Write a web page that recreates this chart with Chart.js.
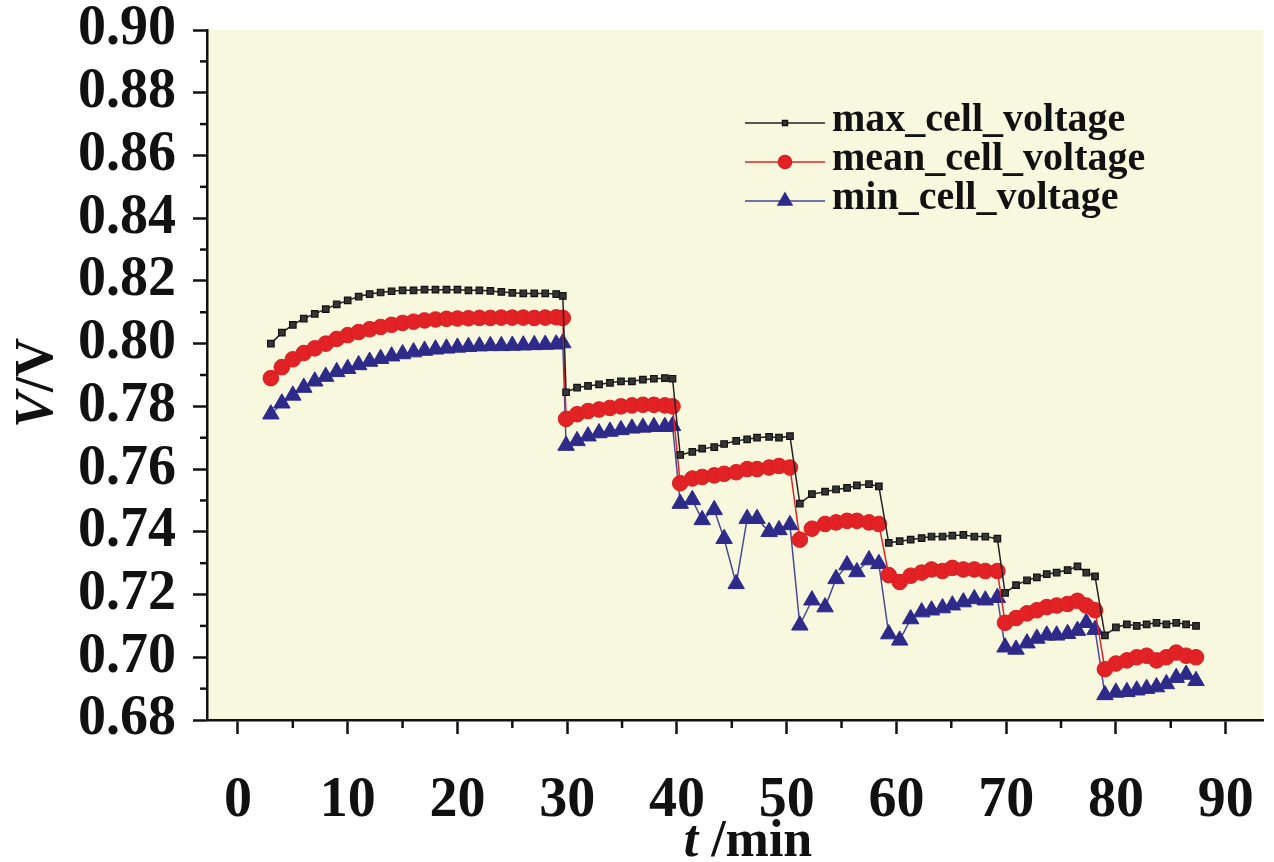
<!DOCTYPE html>
<html><head><meta charset="utf-8">
<script src="https://cdn.jsdelivr.net/npm/chart.js@4.4.1/dist/chart.umd.min.js"></script>
<style>html,body{margin:0;padding:0;background:#fff;}canvas{display:block;}</style>
</head><body>
<canvas id="c" width="1274" height="862"></canvas>
<script>
// time (min)
const times = [
  3,4,5,6,7,8,9,10,11,12,13,14,15,16,17,18,19,20,21,22,23,24,25,26,27,28,29,29.6,
  29.9,30.9,31.9,32.9,33.9,34.9,35.9,36.9,37.9,38.9,39.6,
  40.3,41.4,42.3,43.4,44.3,45.4,46.4,47.3,48.4,49.3,50.3,
  51.2,52.3,53.5,54.5,55.5,56.4,57.5,58.4,
  59.3,60.3,61.3,62.3,63.2,64.2,65.1,66.1,67.1,68.1,69.2,
  69.9,70.9,71.9,72.8,73.7,74.6,75.6,76.5,77.3,78.1,
  79.0,80.0,81.0,81.9,82.8,83.7,84.6,85.5,86.4,87.3
];
const maxVoltage = [
  0.800,0.8035,0.806,0.808,0.8095,0.811,0.8125,0.8138,0.815,0.8158,0.8163,0.8167,0.817,0.817,0.8172,0.8172,0.8172,0.8172,0.817,0.817,0.8168,0.8165,0.8162,0.816,0.816,0.816,0.8158,0.8152,
  0.7845,0.786,0.7865,0.787,0.7875,0.788,0.788,0.7885,0.7888,0.789,0.7888,
  0.7645,0.7655,0.7665,0.767,0.768,0.769,0.7695,0.770,0.7703,0.770,0.7705,
  0.749,0.752,0.7528,0.7535,0.754,0.7548,0.7552,0.7545,
  0.7365,0.737,0.7375,0.738,0.7385,0.7385,0.7388,0.739,0.7385,0.7385,0.7378,
  0.7205,0.723,0.7245,0.7255,0.7265,0.727,0.7278,0.729,0.727,0.7258,
  0.707,0.7095,0.7105,0.710,0.7105,0.711,0.7105,0.711,0.7105,0.710
];
const meanVoltage = [
  0.789,0.7925,0.795,0.797,0.7985,0.800,0.8015,0.8027,0.8037,0.8046,0.8053,0.806,0.8066,0.807,0.8074,0.8077,0.8079,0.808,0.8081,0.8082,0.8082,0.8083,0.8083,0.8083,0.8082,0.8083,0.8084,0.8082,
  0.776,0.7775,0.7785,0.779,0.7795,0.780,0.7803,0.7805,0.7805,0.7803,0.780,
  0.7555,0.757,0.7575,0.758,0.7585,0.759,0.760,0.760,0.7605,0.761,0.7605,
  0.7375,0.741,0.7425,0.743,0.7435,0.7435,0.743,0.7425,
  0.7262,0.724,0.726,0.727,0.728,0.7275,0.7285,0.728,0.728,0.7275,0.7275,
  0.711,0.7125,0.714,0.715,0.716,0.7165,0.717,0.718,0.7165,0.715,
  0.6962,0.698,0.699,0.700,0.7005,0.699,0.700,0.7015,0.7005,0.700
];
const minVoltage = [
  0.7775,0.781,0.7835,0.786,0.788,0.7895,0.791,0.792,0.7932,0.7943,0.7952,0.796,0.7967,0.7973,0.7978,0.7982,0.7985,0.7988,0.799,0.7992,0.7993,0.7993,0.7994,0.7995,0.7996,0.7997,0.7998,0.8002,
  0.7675,0.769,0.7705,0.7715,0.772,0.7725,0.773,0.7733,0.7735,0.7735,0.7738,
  0.749,0.7502,0.7438,0.747,0.7378,0.7234,0.7442,0.7442,0.740,0.7406,0.7422,
  0.7102,0.7182,0.716,0.725,0.7294,0.7272,0.731,0.7298,
  0.7074,0.7054,0.7122,0.7144,0.715,0.7157,0.7166,0.7176,0.7186,0.7182,0.719,
  0.7032,0.7025,0.7045,0.706,0.707,0.707,0.7075,0.7085,0.711,0.7088,
  0.688,0.6888,0.689,0.6895,0.690,0.6905,0.6915,0.6935,0.6945,0.6925
];
const seriesNames = ['max_cell_voltage','mean_cell_voltage','min_cell_voltage'];
const xTicks = [0,10,20,30,40,50,60,70,80,90];
const xMinorTicks = [5,15,25,35,45,55,65,75,85];
const yTicks = [0.68,0.70,0.72,0.74,0.76,0.78,0.80,0.82,0.84,0.86,0.88,0.90];
const yMinorTicks = [0.69,0.71,0.73,0.75,0.77,0.79,0.81,0.83,0.85,0.87,0.89];

const SERIF = "'Liberation Serif', 'Times New Roman', serif";
const pts = arr => times.map((t, i) => ({x: t, y: arr[i]}));

const bgPlugin = {
  id: 'bg',
  beforeDraw(chart) {
    const {ctx, chartArea: a} = chart;
    ctx.save();
    ctx.fillStyle = '#ffffff';
    ctx.fillRect(0, 0, chart.width, chart.height);
    ctx.fillStyle = '#f8f8df';
    ctx.fillRect(a.left, a.top, a.right - a.left, a.bottom - a.top);
    ctx.restore();
  }
};

function drawParts(ctx, parts, cx, cy) {
  let total = 0;
  parts.forEach(p => { ctx.font = p.font; p.w = ctx.measureText(p.text).width; total += p.w; });
  let x = cx - total / 2;
  ctx.textAlign = 'left';
  ctx.textBaseline = 'middle';
  parts.forEach(p => { ctx.font = p.font; ctx.fillText(p.text, x, cy); x += p.w; });
}

const decorPlugin = {
  id: 'decor',
  afterDraw(chart) {
    const {ctx, chartArea: a, scales} = chart;
    const xs = scales.x, ys = scales.y;
    ctx.save();
    ctx.strokeStyle = '#111';
    ctx.lineWidth = 2.5;
    xMinorTicks.forEach(v => {
      const px = xs.getPixelForValue(v);
      ctx.beginPath(); ctx.moveTo(px, a.bottom); ctx.lineTo(px, a.bottom + 8); ctx.stroke();
    });
    yMinorTicks.forEach(v => {
      const py = ys.getPixelForValue(v);
      ctx.beginPath(); ctx.moveTo(a.left - 7, py); ctx.lineTo(a.left, py); ctx.stroke();
    });
    // axis titles
    ctx.fillStyle = '#111';
    drawParts(ctx, [
      {text: 't', font: `italic bold 52px ${SERIF}`},
      {text: ' /min', font: `bold 52px ${SERIF}`}
    ], 748, 843);
    ctx.save();
    ctx.translate(38, (a.top + a.bottom) / 2 + 8);
    ctx.rotate(-Math.PI / 2);
    drawParts(ctx, [
      {text: 'V', font: `italic bold 54px ${SERIF}`},
      {text: '/V', font: `bold 54px ${SERIF}`}
    ], 0, 0);
    ctx.restore();
    // legend
    const rows = [123, 162, 201];
    chart.data.datasets.forEach((ds, i) => {
      const y = rows[i];
      ctx.strokeStyle = ds.borderColor;
      ctx.lineWidth = 1.5;
      ctx.beginPath(); ctx.moveTo(745, y); ctx.lineTo(825, y); ctx.stroke();
      ctx.fillStyle = ds.pointBackgroundColor;
      ctx.strokeStyle = ds.pointBorderColor;
      const r = [3.5, 6.5, 8][i];
      Chart.helpers.drawPoint(ctx, {pointStyle: ds.pointStyle, radius: r, rotation: 0, borderWidth: ds.pointBorderWidth}, 785, y);
      ctx.fillStyle = '#111';
      ctx.font = `bold 40px ${SERIF}`;
      ctx.textAlign = 'left';
      ctx.textBaseline = 'middle';
      ctx.fillText(ds.label, 832, y - 2);
    });
    ctx.restore();
  }
};

new Chart(document.getElementById('c'), {
  type: 'line',
  data: {
    datasets: [
      {label: seriesNames[0], data: pts(maxVoltage), borderColor: '#222222', borderWidth: 1.5,
       pointStyle: 'rect', pointRadius: 4.6, pointBackgroundColor: '#353535', pointBorderColor: '#111111', pointBorderWidth: 1.2},
      {label: seriesNames[1], data: pts(meanVoltage), borderColor: '#e32226', borderWidth: 1.5,
       pointStyle: 'circle', pointRadius: 7.8, pointBackgroundColor: '#e32226', pointBorderColor: '#d81e22', pointBorderWidth: 1},
      {label: seriesNames[2], data: pts(minVoltage), borderColor: '#4a4898', borderWidth: 1.5,
       pointStyle: 'triangle', pointRadius: 9.5, pointBackgroundColor: '#2d2a8a', pointBorderColor: '#2d2a8a', pointBorderWidth: 1}
    ]
  },
  options: {
    responsive: false,
    animation: false,
    devicePixelRatio: 1,
    layout: {padding: {top: 30, right: 8, left: 0, bottom: 0}},
    plugins: {legend: {display: false}, tooltip: {enabled: false}},
    elements: {line: {tension: 0}},
    scales: {
      x: {
        type: 'linear', min: -2.82, max: 93.45,
        afterBuildTicks: s => { s.ticks = xTicks.map(v => ({value: v})); },
        afterFit: s => { s.height = 142; s.paddingLeft = 0; s.paddingRight = 0; },
        border: {display: true, color: '#111', width: 2.5},
        grid: {display: true, drawOnChartArea: false, drawTicks: true, tickLength: 14, tickWidth: 2.5, tickColor: '#111'},
        ticks: {color: '#111', padding: 40, maxRotation: 0, autoSkip: false,
                font: {family: SERIF, weight: 'bold', size: 56, lineHeight: 1},
                callback: v => String(v)}
      },
      y: {
        type: 'linear', min: 0.68, max: 0.90,
        afterBuildTicks: s => { s.ticks = yTicks.map(v => ({value: v})); },
        afterFit: s => { s.width = 207; s.paddingTop = 0; s.paddingBottom = 0; },
        border: {display: true, color: '#111', width: 2.5},
        grid: {display: true, drawOnChartArea: false, drawTicks: true, tickLength: 14, tickWidth: 2.5, tickColor: '#111'},
        ticks: {color: '#111', padding: 17, autoSkip: false,
                font: {family: SERIF, weight: 'bold', size: 56, lineHeight: 1},
                callback: v => Number(v).toFixed(2)}
      }
    }
  },
  plugins: [bgPlugin, decorPlugin]
});
</script>
</body></html>
